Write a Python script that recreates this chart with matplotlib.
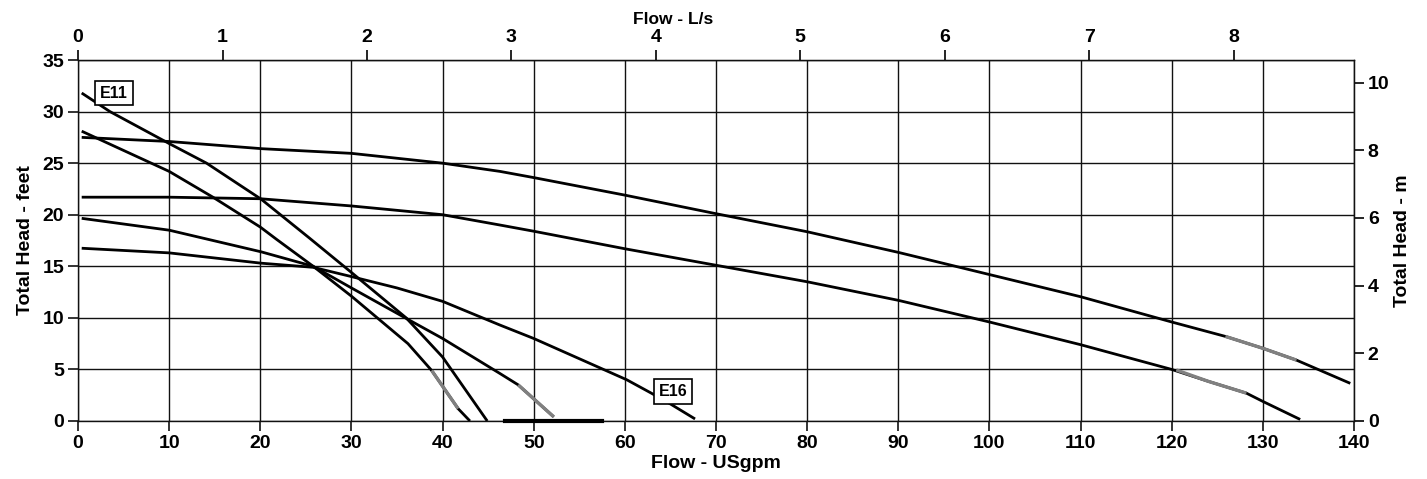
import matplotlib
matplotlib.use('Agg')
import matplotlib.pyplot as plt

plt.rcParams['font.family'] = ['Liberation Sans', 'DejaVu Sans']
plt.rcParams['font.weight'] = 'bold'

# pump curves, flow in USgpm, head in feet
e11_gpm = [0.4, 3.5, 10, 14.1, 20.1, 25.3, 30, 36.0, 40, 44.9]
e11_ft = [31.8, 30.0, 26.9, 25.0, 21.5, 17.8, 14.4, 10.0, 6.2, 0.0]

c_gpm = [0.4, 10, 14.8, 20, 21.8, 25.8, 30, 36.2, 38.8, 41.7, 43.0]
c_ft = [28.1, 24.2, 21.7, 18.8, 17.6, 15.0, 12.1, 7.5, 4.9, 1.2, 0.0]

e_gpm = [0.4, 10, 20.1, 25.8, 30, 35.9, 40, 46.3, 48.3, 52.2]
e_ft = [19.65, 18.5, 16.4, 15.0, 12.9, 10.0, 8.0, 4.6, 3.5, 0.4]

f_gpm = [0.4, 10, 20.1, 25.8, 30, 35, 40, 46.3, 50, 60.2, 62.9, 65.0, 67.7]
f_ft = [16.75, 16.3, 15.3, 14.9, 14.0, 12.9, 11.6, 9.3, 8.0, 4.0, 2.7, 1.65, 0.2]

b_gpm = [0.4, 10, 20.2, 30, 40, 46.3, 50, 60, 70, 80, 90, 100, 110, 120, 125.9, 130, 133.7, 139.6]
b_ft = [27.5, 27.1, 26.4, 25.95, 25.0, 24.2, 23.6, 21.9, 20.1, 18.35, 16.35, 14.2, 12.05, 9.6, 8.2, 7.05, 5.9, 3.65]

d_gpm = [0.4, 10, 20, 30, 40, 46.3, 50, 60, 70, 80, 90, 100, 110, 120, 124, 128.2, 130, 134.1]
d_ft = [21.7, 21.7, 21.55, 20.85, 20.0, 19.0, 18.4, 16.7, 15.1, 13.5, 11.7, 9.6, 7.4, 5.0, 3.85, 2.7, 1.9, 0.15]

# grey (end of range) portions
c_grey_gpm = [38.8, 41.7]
c_grey_ft = [4.9, 1.2]
e_grey_gpm = [48.3, 52.2]
e_grey_ft = [3.5, 0.4]
b_grey_gpm = [125.9, 130, 133.7]
b_grey_ft = [8.2, 7.05, 5.9]
d_grey_gpm = [120.5, 124, 128.2]
d_grey_ft = [4.95, 3.85, 2.7]

base_gpm = [46.9, 57.5]
base_ft = [0, 0]

GPM_TO_LS = 0.0630902
FT_TO_M = 0.3048

fig = plt.figure(figsize=(14.27, 4.79), dpi=100)
ax = fig.add_axes([0.0547, 0.1211, 0.8941, 0.7536])

ax.set_xlim(0, 140)
ax.set_ylim(0, 35)
ax.set_xticks(range(0, 141, 10))
ax.set_yticks(range(0, 36, 5))
ax.grid(True, color='#111111', linewidth=1.0)
ax.set_axisbelow(True)
for s in ax.spines.values():
    s.set_linewidth(1.0)
    s.set_color('#111111')

for x, y in [(e11_gpm, e11_ft), (c_gpm, c_ft), (e_gpm, e_ft),
             (f_gpm, f_ft), (b_gpm, b_ft), (d_gpm, d_ft)]:
    ax.plot(x, y, color='black', linewidth=2.0, solid_capstyle='butt',
            solid_joinstyle='round', zorder=3)

for x, y in [(c_grey_gpm, c_grey_ft), (e_grey_gpm, e_grey_ft),
             (b_grey_gpm, b_grey_ft), (d_grey_gpm, d_grey_ft)]:
    ax.plot(x, y, color='#808080', linewidth=2.4, solid_capstyle='butt', zorder=4)

ax.plot(base_gpm, base_ft, color='black', linewidth=3.0, zorder=4, clip_on=False)

box = dict(boxstyle='square,pad=0.3', facecolor='white', edgecolor='black', linewidth=1.2)
ax.text(3.95, 31.8, 'E11', fontsize=11.5, fontweight='bold', ha='center', va='center',
        bbox=box, zorder=5)
ax.text(65.3, 2.85, 'E16', fontsize=11.5, fontweight='bold', ha='center', va='center',
        bbox=box, zorder=5)

ax.tick_params(axis='both', labelsize=14, length=7, width=1.2, color='#111111', pad=3)
ax.set_xlabel('Flow - USgpm', fontsize=14, fontweight='bold', labelpad=2)
ax.set_ylabel('Total Head - feet', fontsize=14, fontweight='bold', labelpad=6)

top = ax.secondary_xaxis('top', functions=(lambda q: q * GPM_TO_LS, lambda q: q / GPM_TO_LS))
top.set_xticks(range(0, 9))
top.tick_params(labelsize=14, length=7, width=1.2, pad=3)
fig.text(673 / 1427, 1 - 19 / 479, 'Flow - L/s', fontsize=12.5, fontweight='bold',
         ha='center', va='center')

right = ax.secondary_yaxis('right', functions=(lambda h: h * FT_TO_M, lambda h: h / FT_TO_M))
right.set_yticks(range(0, 11, 2))
right.tick_params(labelsize=14, length=7, width=1.2, pad=3)
right.set_ylabel('Total Head - m', fontsize=14, fontweight='bold', labelpad=3)

fig.savefig('out.png', dpi=100)
